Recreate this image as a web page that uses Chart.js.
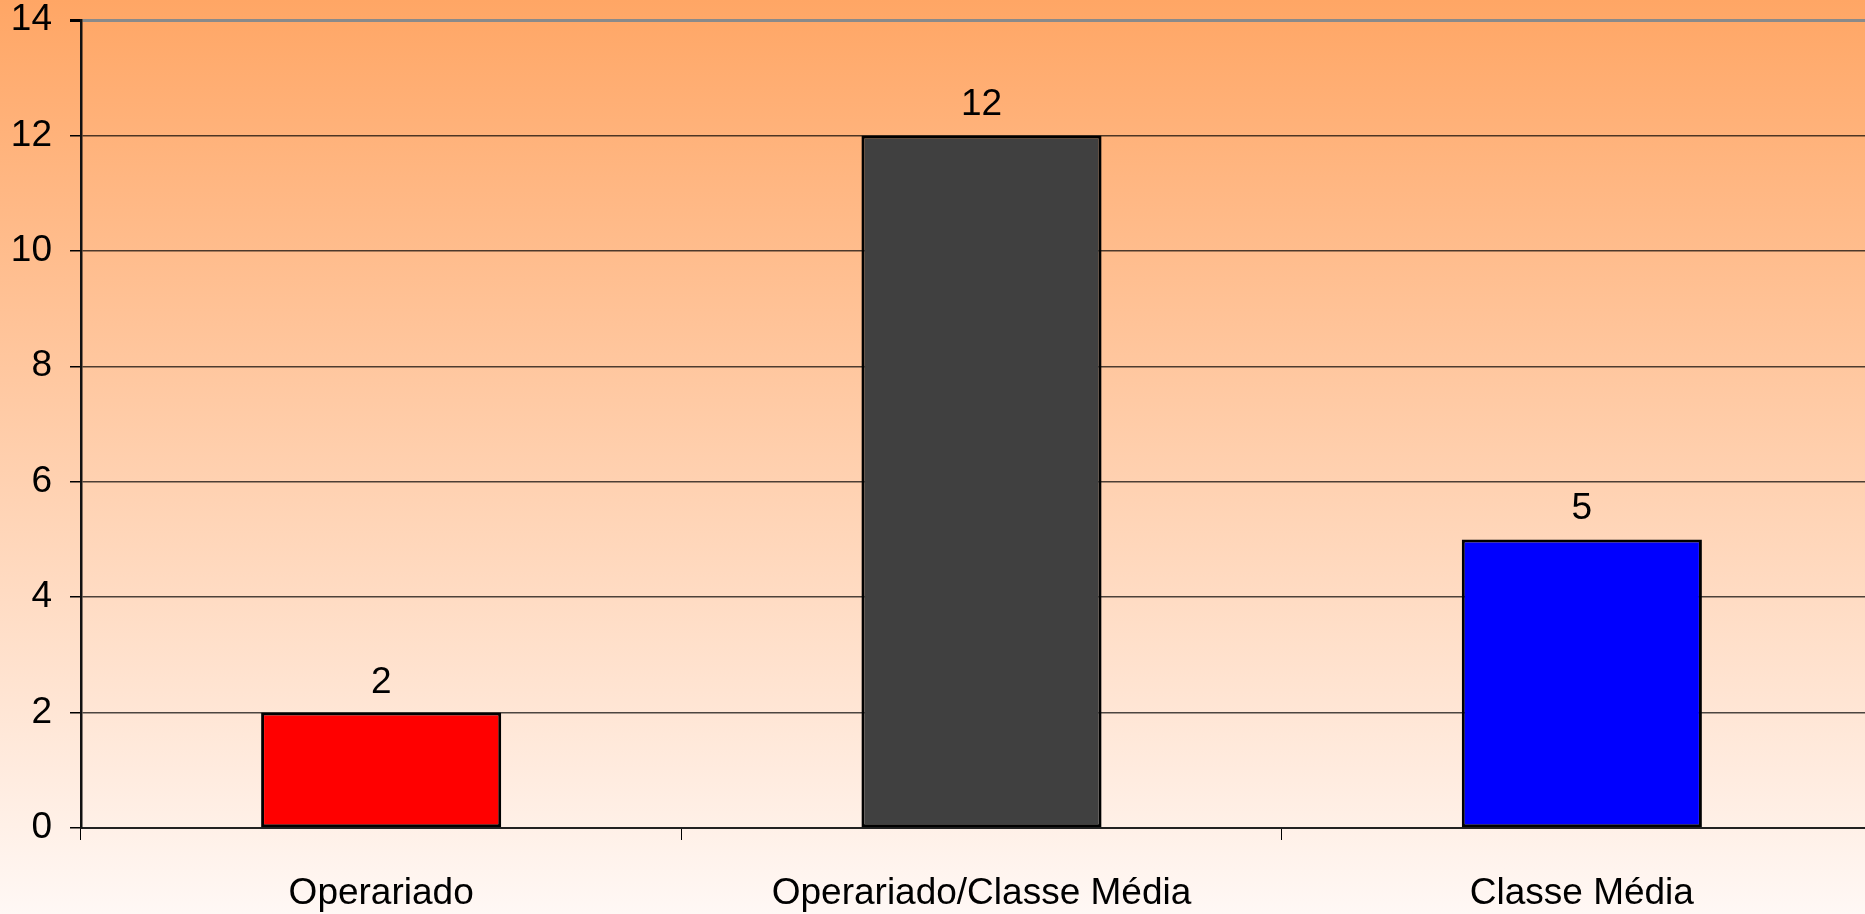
<!DOCTYPE html>
<html>
<head>
<meta charset="utf-8">
<title>Operariado / Classe Média</title>
<script src="https://cdn.jsdelivr.net/npm/chart.js@4/dist/chart.umd.min.js"></script>
<style>
    html, body {
        margin: 0;
        padding: 0;
        width: 1865px;
        height: 914px;
        overflow: hidden;
    }
    body {
        background: linear-gradient(to bottom, #ffa665 0%, #fff8f5 100%);
    }
    #wrap {
        width: 1885px;
        height: 914px;
    }
</style>
</head>
<body>
<div id="wrap"><canvas id="barChart"></canvas></div>
<script>
const categories = ['Operariado', 'Operariado/Classe Média', 'Classe Média'];
const counts = [2, 12, 5];
const barColors = ['#ff0000', '#404040', '#0000ff'];
const yTicks = [0, 2, 4, 6, 8, 10, 12, 14];

const labelFont = { family: '"Liberation Sans", Arial, sans-serif', size: 37 };

// valores acima das barras
const valueLabels = {
    id: 'valueLabels',
    afterDatasetsDraw(chart) {
        const ctx = chart.ctx;
        const meta = chart.getDatasetMeta(0);
        ctx.save();
        ctx.font = labelFont.size + 'px ' + labelFont.family;
        ctx.fillStyle = '#000';
        ctx.textAlign = 'center';
        ctx.textBaseline = 'alphabetic';
        meta.data.forEach(function(bar, i) {
            ctx.fillText(String(counts[i]), bar.x, bar.y - 20);
        });
        ctx.restore();
    }
};

const ctx = document.getElementById('barChart').getContext('2d');
const chart = new Chart(ctx, {
    type: 'bar',
    data: {
        labels: categories,
        datasets: [{
            data: counts,
            backgroundColor: barColors,
            borderColor: '#000',
            borderWidth: 3,
            borderSkipped: false,
            barPercentage: 0.4,
            categoryPercentage: 1.0
        }]
    },
    options: {
        responsive: true,
        maintainAspectRatio: false,
        animation: false,
        layout: {
            padding: { top: 20, right: 3, bottom: 0, left: 0 }
        },
        plugins: {
            legend: { display: false },
            tooltip: { enabled: false }
        },
        scales: {
            x: {
                grid: {
                    offset: true,
                    drawOnChartArea: false,
                    tickLength: 12,
                    color: '#000',
                    lineWidth: 1
                },
                border: { color: '#222', width: 2 },
                ticks: {
                    color: '#000',
                    font: labelFont,
                    padding: 32,
                    maxRotation: 0
                },
                afterFit: function(scale) {
                    scale.height = 86;
                    scale.paddingLeft = 0;
                    scale.paddingRight = 0;
                }
            },
            y: {
                min: 0,
                max: 14,
                afterBuildTicks: function(scale) {
                    scale.ticks = yTicks.map(v => ({ value: v }));
                },
                grid: {
                    tickLength: 11,
                    tickColor: '#000',
                    color: function(c) {
                        return c.tick && c.tick.value === 14 ? '#8a8a8a' : 'rgba(0,0,0,0.7)';
                    },
                    lineWidth: function(c) {
                        return c.tick && c.tick.value === 14 ? 3 : 1.5;
                    }
                },
                border: { color: '#111', width: 2.5 },
                ticks: {
                    color: '#000',
                    font: labelFont,
                    padding: 18
                },
                afterFit: function(scale) {
                    scale.width = 81;
                    // sem folga extra em cima/embaixo, a area do grafico fica onde queremos
                    scale.paddingTop = 0;
                    scale.paddingBottom = 0;
                }
            }
        }
    },
    plugins: [valueLabels]
});
</script>
</body>
</html>
